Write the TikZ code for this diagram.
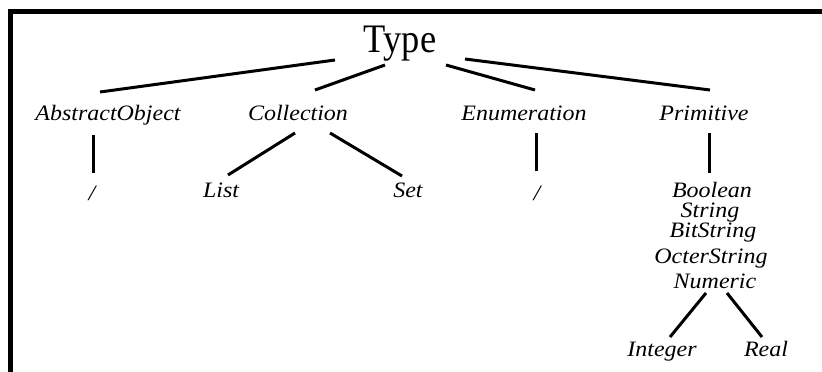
\documentclass[tikz,border=0pt]{standalone}
\usepackage{fontspec}
\setmainfont{Liberation Serif}[FakeStretch=1.09]
\newfontfamily\typefont{Liberation Serif}[FakeStretch=0.9]
\usetikzlibrary{calc}

\begin{document}
\begin{tikzpicture}[x=1pt,y=-1pt,line width=3pt,
  every node/.style={inner sep=0pt,anchor=base,font=\fontsize{22}{26}\selectfont\itshape}]
\useasboundingbox (0,0) rectangle (822,372);
% frame
\draw [line width=5pt] (10.5,380) -- (10.5,11.5) -- (830,11.5);

\path (400,52) node (type) [font=\typefont\fontsize{40.5}{44}\selectfont] {Type};
\path (108,120) node (absobj) {AbstractObject};
\path (298,120) node (coll) {Collection};
\path (524,120) node (enum) {Enumeration};
\path (704,120) node (prim) {Primitive};

\path (92,200) node (absnone) {/};
\path (221,197) node (list) {List};
\path (408,197) node (set) {Set};
\path (537,200) node (enumnone) {/};

\path (712,197) node (bool) {Boolean};
\path (710,217) node (string) {String};
\path (713,237) node (bitstr) {BitString};
\path (711,263) node (octstr) {OcterString};
\path (715,288) node (num) {Numeric};
\path (662,356) node (int) {Integer};
\path (766,356) node (real) {Real};

\draw ($(type.base)+(-65,8)$) to ($(absobj.base)+(-8,-28)$);
\draw ($(type.base)+(-15,13)$) to ($(coll.base)+(17,-30)$);
\draw ($(type.base)+(46,13)$) to ($(enum.base)+(11,-30)$);
\draw ($(type.base)+(65,7)$) to ($(prim.base)+(6,-30)$);

\draw ($(absobj.base)+(-15,15)$) to ($(absnone.base)+(1,-27)$);
\draw ($(coll.base)+(-3,13)$) to ($(list.base)+(7,-22)$);
\draw ($(coll.base)+(32,13)$) to ($(set.base)+(-6,-21)$);
\draw ($(enum.base)+(12,13)$) to ($(enumnone.base)+(-1,-29)$);
\draw ($(prim.base)+(5,13)$) to ($(bool.base)+(-3,-24)$);

\draw ($(num.base)+(-9,5)$) to ($(int.base)+(8,-19)$);
\draw ($(num.base)+(12,5)$) to ($(real.base)+(-4,-19)$);
\end{tikzpicture}
\end{document}
